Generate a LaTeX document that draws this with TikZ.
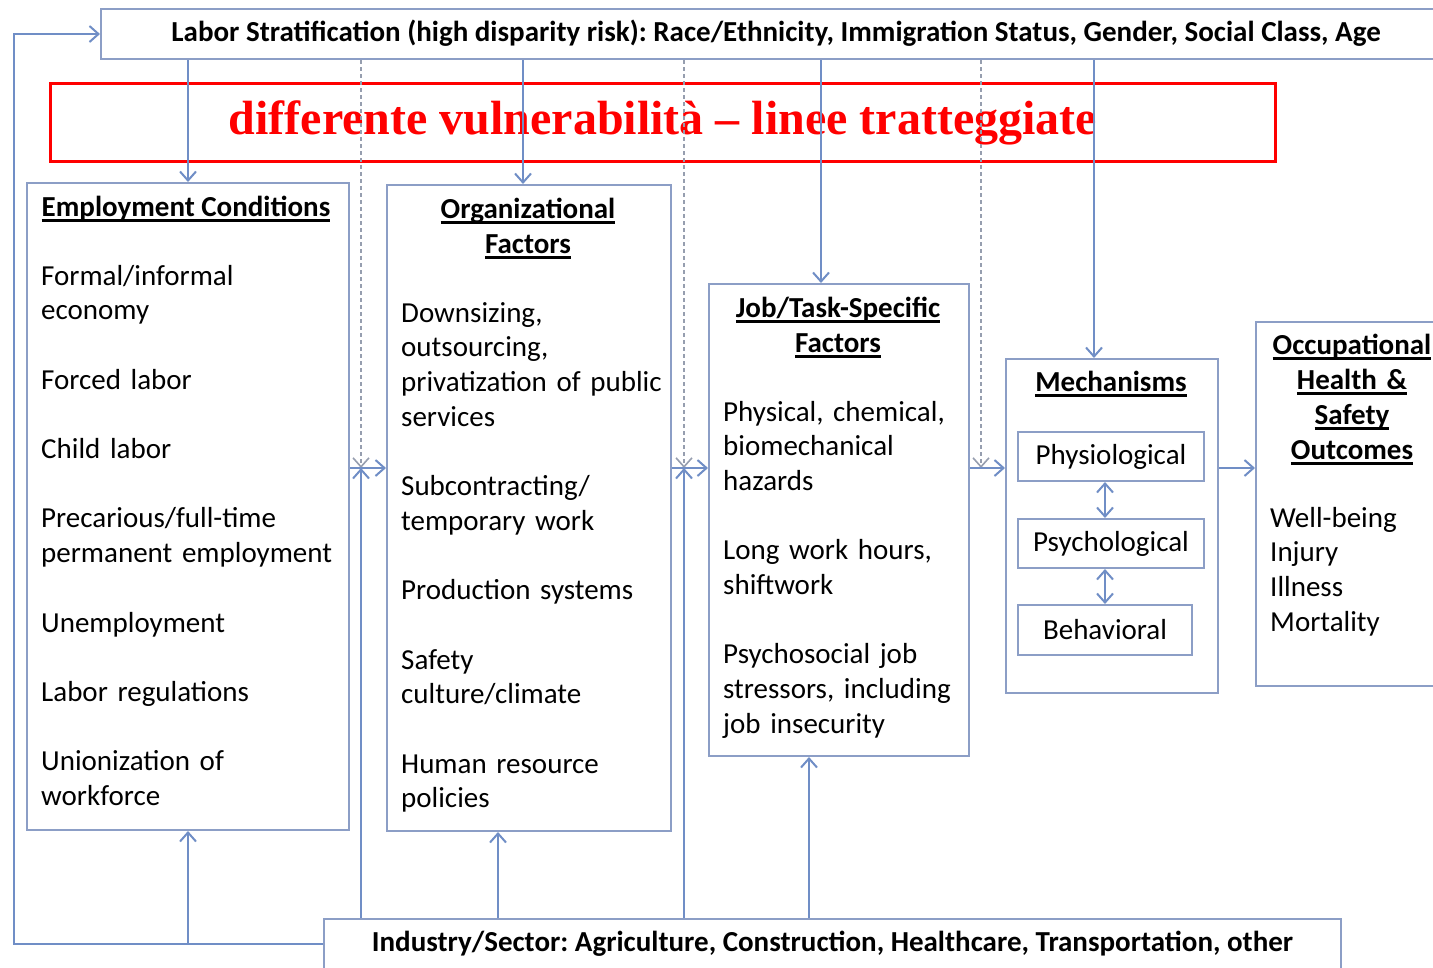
\documentclass[tikz,border=0pt]{standalone}
\usepackage{fontspec}
\setmainfont{Carlito}
\newfontfamily\redfont[Ligatures=TeX]{Liberation Serif}
\usetikzlibrary{arrows.meta,calc}
\definecolor{boxc}{RGB}{140,158,198}
\definecolor{linec}{RGB}{112,142,198}
\definecolor{dashc}{RGB}{150,158,175}
\frenchspacing
\newcommand\myul[1]{\leavevmode\setbox0\hbox{#1}\rlap{\vrule height -3pt depth 5.5pt width \wd0}\box0}
\tikzset{
  box/.style={draw=boxc, line width=2pt, fill=white, inner sep=0pt},
  conn/.style={draw=linec, line width=2pt, -{Straight Barb[length=9pt,width=16pt]}},
  twoway/.style={draw=linec, line width=2pt, {Straight Barb[length=9pt,width=16pt]}-{Straight Barb[length=9pt,width=16pt]}},
  dconn/.style={draw=dashc, line width=1.6pt, dash pattern=on 4pt off 3pt, -{Straight Barb[length=9pt,width=16pt]}},
  plain/.style={draw=linec, line width=2pt},
  txt/.style={inner sep=0pt, font=\fontsize{29pt}{34.7pt}\selectfont, align=left},
  ttl/.style={inner sep=0pt, font=\fontsize{29pt}{35pt}\selectfont\bfseries, align=center},
  bar/.style={inner sep=0pt, font=\fontsize{29pt}{32pt}\selectfont\bfseries}
}
\begin{document}
\begin{tikzpicture}[x=1pt,y=-1pt]
\useasboundingbox (0,0) rectangle (1433,967);
\fill[white] (0,0) rectangle (1433,967);
\clip (0,0) rectangle (1433,967);

% boxes
\node[box, minimum width=1345pt, minimum height=50pt, anchor=north west] (labor) at (100,8) {};
\node[bar, anchor=center] (labort) at (776,33)
  {Labor Stratification (high disparity risk): Race/Ethnicity, Immigration Status, Gender, Social Class, Age};
\node[box, minimum width=322pt, minimum height=647pt, anchor=north west] (ec) at (26,182) {};
\node[box, minimum width=284pt, minimum height=646pt, anchor=north west] (of) at (386,184) {};
\node[box, minimum width=260pt, minimum height=472pt, anchor=north west] (job) at (708,283) {};
\node[box, minimum width=212pt, minimum height=334pt, anchor=north west] (mech) at (1005,358) {};
\node[box, minimum width=190pt, minimum height=364pt, anchor=north west] (out) at (1255,321) {};
\node[box, bar, minimum width=1017pt, minimum height=50pt, anchor=north west] (ind) at (323,918)
  {Industry/Sector: Agriculture, Construction, Healthcare, Transportation, other};

% mechanism sub-boxes
\node[box, txt, minimum width=186pt, minimum height=49pt] (phys) at (1111,456.5) {Physiological};
\node[box, txt, minimum width=186pt, minimum height=49pt] (psych) at (1111,543.5) {Psychological};
\node[box, txt, minimum width=174pt, minimum height=50pt] (behav) at (1105,630) {Behavioral};

% titles
\node[ttl, anchor=base] (ect) at (186,216) {\myul{Employment Conditions}};
\node[ttl, text width=280pt, anchor=base] (oft) at (528,218) {\myul{Organizational}\\\myul{Factors}};
\node[ttl, text width=250pt, anchor=base] (jobt) at (838,317) {\myul{Job/Task-Specific}\\\myul{Factors}};
\node[ttl, anchor=base] (mecht) at (1111,391) {\myul{Mechanisms}};
\node[ttl, text width=200pt, anchor=base] (outt) at (1352,354) {\myul{Occupational}\\\myul{Health \&}\\\myul{Safety}\\\myul{Outcomes}};

% contents
\node[txt, text width=320pt, anchor=base west] (ecx) at (41,285)
  {Formal/informal\\economy\\[34.7pt]Forced labor\\[34.7pt]Child labor\\[34.7pt]Precarious/full-time\\permanent employment\\[34.7pt]Unemployment\\[34.7pt]Labor regulations\\[34.7pt]Unionization of\\workforce};
\node[txt, text width=280pt, anchor=base west] (ofx) at (401,322)
  {Downsizing,\\outsourcing,\\privatization of public\\services\\[34.7pt]Subcontracting/\\temporary work\\[34.7pt]Production systems\\[34.7pt]Safety\\culture/climate\\[34.7pt]Human resource\\policies};
\node[txt, text width=250pt, anchor=base west] (jobx) at (723,421)
  {Physical, chemical,\\biomechanical\\hazards\\[34.7pt]Long work hours,\\shiftwork\\[34.7pt]Psychosocial job\\stressors, including\\job insecurity};
\node[txt, text width=170pt, anchor=base west] (outx) at (1270,527)
  {Well-being\\Injury\\Illness\\Mortality};

% note
\node[draw=red, line width=3pt, minimum width=1225pt, minimum height=78pt, anchor=north west,
  font=\redfont\fontsize{48pt}{50pt}\selectfont\bfseries, text=red, inner sep=0pt] (note) at (49,82)
  {differente vulnerabilità – linee tratteggiate};

% junction coordinates
\coordinate (j1) at (361,468);
\coordinate (j2) at (684,468);
\coordinate (j3) at (981,468);
\coordinate (cl) at (14,943);
\coordinate (ofin) at ([xshift=-6pt]of.north);
\coordinate (jobin) at ([xshift=-18pt]job.north);
\coordinate (mechin) at ([xshift=-18pt]mech.north);
\coordinate (ofup) at ([xshift=-31pt]of.south);
\coordinate (jobup) at ([xshift=-30pt]job.south);
\coordinate (ecup) at (ec.south);

% from labor stratification
\draw[conn] (labor.south -| ec.north) -- (ec.north);
\draw[conn] (labor.south -| ofin) -- (ofin);
\draw[conn] (labor.south -| jobin) -- (jobin);
\draw[conn] (labor.south -| mechin) -- (mechin);
\draw[dconn] (labor.south -| j1) -- (j1);
\draw[dconn] (labor.south -| j2) -- (j2);
\draw[dconn] (labor.south -| j3) -- (j3);

% from industry
\draw[conn] (ind.north -| j1) -- (j1);
\draw[conn] (ind.north -| j2) -- (j2);
\draw[conn] (ind.north -| ofup) -- (ofup);
\draw[conn] (ind.north -| jobup) -- (jobup);
\draw[conn] (ind.west) -- (ind.west -| ecup) -- (ecup);
\draw[conn] (ind.west -| ecup) -- (ind.west -| cl) -- (cl |- labor.west) -- (labor.west);

% horizontal chain
\draw[conn] (ec.east |- j1) -- (of.west |- j1);
\draw[conn] (of.east |- j2) -- (job.west |- j2);
\draw[conn] (job.east |- j3) -- (mech.west |- j3);
\draw[conn] (mech.east |- j3) -- (out.west |- j3);

% mechanisms links
\draw[twoway] ([xshift=-6pt]phys.south) -- ([xshift=-6pt]psych.north);
\draw[twoway] ([xshift=-6pt]psych.south) -- ([xshift=0pt]behav.north);
\end{tikzpicture}
\end{document}
